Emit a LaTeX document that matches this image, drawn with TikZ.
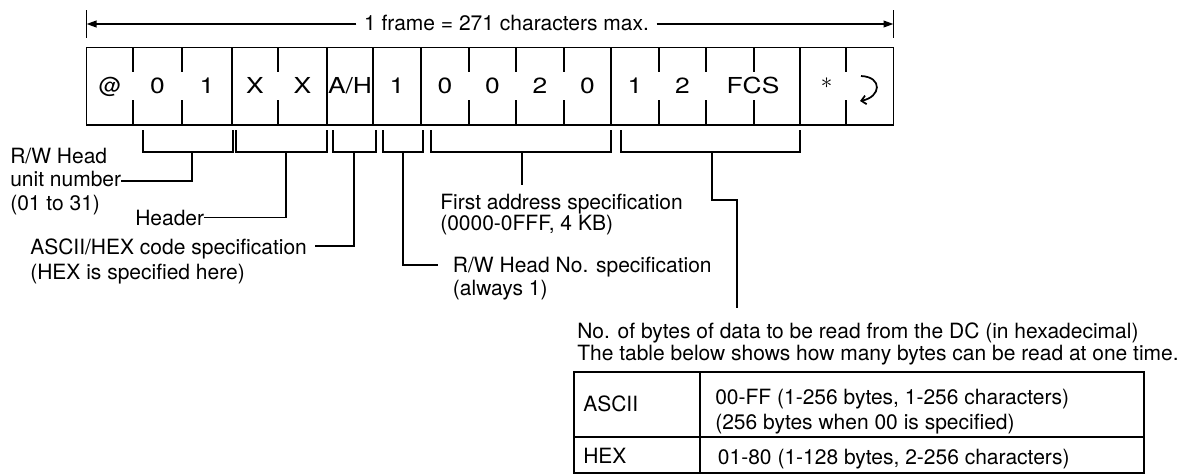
\documentclass[tikz,border=0pt]{standalone}
\usepackage{fontspec}
\usepackage{graphicx}
\setmainfont{TeX Gyre Heros}
\usetikzlibrary{arrows.meta}
\newcommand\wch[1]{\scalebox{1.2}[1]{#1}}
\begin{document}
\begin{tikzpicture}[x=0.75pt,y=-0.75pt,
  ln/.style={line width=1.4pt},
  dim/.style={line width=1.3pt,-{Triangle[length=7.5pt,width=5pt]}},
  lbl/.style={font=\fontsize{15.75pt}{#1}\selectfont, align=left, inner sep=0pt, anchor=base west},
  lbl/.default=17.5pt,
  ch/.style={font=\fontsize{16.5pt}{18pt}\selectfont, inner sep=0pt, anchor=base}]
\useasboundingbox (0,0) rectangle (1195,475);

% dimension line
\coordinate (lbar) at (86.5,24);
\coordinate (rbar) at (893.5,24);
\draw[ln] (86.5,10) -- (86.5,38);
\draw[ln] (893.5,10) -- (893.5,38);
\node[font=\fontsize{15.75pt}{18pt}\selectfont, inner xsep=5.5pt, inner ysep=0pt, anchor=base] (ftext) at (506.5,30) {1 frame = 271 characters max.};
\draw[dim] (ftext.west |- lbar) -- (lbar);
\draw[dim] (ftext.east |- rbar) -- (rbar);

% frame row
\draw[ln] (86.5,47.5) rectangle (893.5,125);
\foreach \x in {232,327,373,421,611,800}
  \draw[ln] (\x,47.5) -- (\x,125);
\foreach \x in {133,182,278,469,516,564,659,706,754,846}
  {\draw[ln] (\x,47.5) -- (\x,72); \draw[ln] (\x,100) -- (\x,125);}

\node[ch] (c1) at (110,93) {@};
\node[ch] (c2) at (157.5,93) {\wch{0}};
\node[ch] (c3) at (207,93) {\wch{1}};
\node[ch] (c4) at (255,93) {\wch{X}};
\node[ch] (c5) at (302.5,93) {\wch{X}};
\node[ch] (c6) at (350,93) {\wch{A/H}};
\node[ch] (c7) at (397,93) {\wch{1}};
\node[ch] (c8) at (445,93) {\wch{0}};
\node[ch] (c9) at (492.5,93) {\wch{0}};
\node[ch] (c10) at (540,93) {\wch{2}};
\node[ch] (c11) at (587.5,93) {\wch{0}};
\node[ch] (c12) at (635,93) {\wch{1}};
\node[ch] (c13) at (682.5,93) {\wch{2}};
\node[ch] (c14) at (753,93) {\wch{FCS}};
\node[inner sep=0pt, font=\fontsize{17pt}{18pt}\selectfont] (c15) at (826.5,83.5) {$\ast$};
\coordinate (r1) at (861,76);
\coordinate (r2) at (860,101);
\draw[line width=1.3pt,-{Straight Barb[length=3.5pt,width=6.5pt]}] (r1) .. controls (883,77) and (881,97) .. (r2);

% brackets
\draw[ln] (142.7,130) -- (142.7,152) -- (233.3,152) -- (233.3,130);
\draw[ln] (236,130) -- (236,152) -- (326.7,152) -- (326.7,130);
\draw[ln] (333,130) -- (333,152) -- (375.7,152) -- (375.7,130);
\draw[ln] (382.7,130) -- (382.7,152) -- (423.3,152) -- (423.3,130);
\draw[ln] (430.7,130) -- (430.7,152) -- (610.7,152) -- (610.7,130);
\draw[ln] (620.7,130) -- (620.7,152) -- (800,152) -- (800,130);
\coordinate (b1) at (191.7,152);
\coordinate (b2) at (285.7,152);
\coordinate (b3) at (354.3,152);
\coordinate (b4) at (403,152);
\coordinate (b5) at (521.7,152);
\coordinate (b6) at (712.3,152);

% labels (anchored at the baseline of their last line)
\node[lbl=17.5pt] (lab1) at (10,210.1) {R/W Head\\unit number\\(01 to 31)};
\node[lbl] (lab2) at (135,225) {Header};
\node[lbl=18.75pt] (lab3) at (30,279) {ASCII/HEX code specification\\(HEX is specified here)};
\node[lbl=17.5pt] (lab4) at (452.7,295.8) {R/W Head No. specification\\(always 1)};
\node[lbl=15.75pt] (lab5) at (440,230) {First address specification\\(0000-0FFF, 4 KB)};
\node[lbl=16pt] (lab6) at (577,360.3) {No. of bytes of data to be read from the DC (in hexadecimal)\\The table below shows how many bytes can be read at one time.};

% connectors
\coordinate (e3) at (315,246);
\coordinate (e4) at (438,265);
\coordinate (e5) at (521.7,185);
\coordinate (k6) at (736.7,200);
\coordinate (e6) at (736.7,308);
\draw[ln] (b1) |- (lab1.east);
\draw[ln] (b2) |- (lab2.east);
\draw[ln] (b3) |- (e3);
\draw[ln] (b4) |- (e4);
\draw[ln] (b5) -- (e5);
\draw[ln] (b6) |- (k6) -- (e6);

% table
\draw[line width=1.6pt] (574,372) rectangle (1144,473);
\draw[line width=1.6pt] (574,437) -- (1144,437);
\draw[line width=2pt] (700,372) -- (700,473);
\node[lbl] (t1) at (583,411.5) {ASCII};
\node[lbl=18.75pt] (t2) at (715,429) {00-FF (1-256 bytes, 1-256 characters)\\(256 bytes when 00 is specified)};
\node[lbl] (t3) at (583,463.5) {HEX};
\node[lbl] (t4) at (717.7,464) {01-80 (1-128 bytes, 2-256 characters)};
\end{tikzpicture}
\end{document}
